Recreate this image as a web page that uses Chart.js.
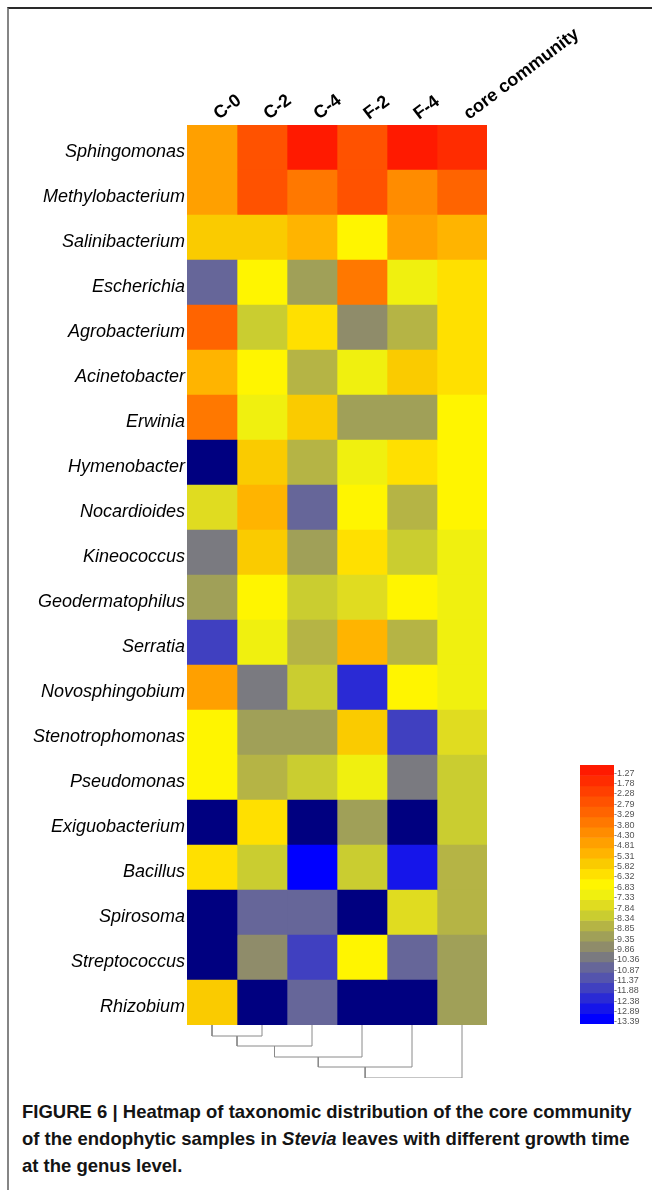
<!DOCTYPE html>
<html>
<head>
<meta charset="utf-8">
<title>Core community heatmap</title>
<script src="https://cdn.jsdelivr.net/npm/chart.js@4.4.1/dist/chart.umd.min.js"></script>
<style>
  html, body { margin: 0; padding: 0; background: #fff; }
  body { width: 652px; height: 1190px; position: relative; overflow: hidden;
         font-family: "Liberation Sans", Arial, Helvetica, sans-serif; }
  .frame { position: absolute; left: 7px; top: 7px; width: 645px; height: 1183px;
           border-top: 2px solid #2a2a2a; border-left: 2px solid #858585; box-sizing: border-box; }
  canvas { position: absolute; }
  #caption { position: absolute; left: 22px; top: 1098px; font-weight: bold; font-size: 18.5px;
             line-height: 27px; color: #141414; white-space: nowrap; }
</style>
</head>
<body>
<div class="frame"></div>
<canvas id="heat" width="652" height="1045" style="left:0;top:0"></canvas>
<canvas id="tree" width="300" height="65" style="left:187px;top:1020px"></canvas>
<canvas id="key" width="82" height="290" style="left:570px;top:750px"></canvas>
<div id="caption">
  <div>FIGURE 6 | Heatmap of taxonomic distribution of the core community</div>
  <div>of the endophytic samples in <i>Stevia</i> leaves with different growth time</div>
  <div>at the genus level.</div>
</div>
<script>
// Genera (rows, top to bottom) and samples (columns)
const genera = ["Sphingomonas", "Methylobacterium", "Salinibacterium", "Escherichia", "Agrobacterium",
  "Acinetobacter", "Erwinia", "Hymenobacter", "Nocardioides", "Kineococcus", "Geodermatophilus",
  "Serratia", "Novosphingobium", "Stenotrophomonas", "Pseudomonas", "Exiguobacterium", "Bacillus",
  "Spirosoma", "Streptococcus", "Rhizobium"];
const samples = ["C-0", "C-2", "C-4", "F-2", "F-4", "core community"];

// Log relative abundance per genus in each sample; null = not detected
const c0 = [-4.81, -4.81, -5.82, -10.87, -3.29, -5.31, -3.80, null, -7.84, -10.36,
  -9.35, -11.88, -4.81, -6.83, -6.83, null, -6.32, null, null, -5.82];
const c2 = [-2.79, -2.79, -5.82, -6.83, -8.34, -6.83, -7.33, -5.82, -5.31, -5.82,
  -6.83, -7.33, -10.36, -9.35, -8.85, -6.32, -8.34, -10.87, -9.86, null];
const c4 = [-1.27, -3.80, -5.31, -9.35, -6.32, -8.85, -5.82, -8.85, -10.87, -9.35,
  -8.34, -8.85, -8.34, -9.35, -8.34, null, -13.39, -10.87, -11.88, -10.87];
const f2 = [-2.79, -2.79, -6.83, -3.80, -9.86, -7.33, -9.35, -7.33, -6.83, -6.32,
  -7.84, -5.31, -12.38, -5.82, -7.33, -9.35, -8.34, null, -6.83, null];
const f4 = [-1.27, -4.30, -4.81, -7.33, -8.85, -5.82, -9.35, -6.32, -8.85, -8.34,
  -6.83, -8.85, -6.83, -11.88, -10.36, null, -12.89, -7.84, -10.87, null];
const core = [-1.78, -3.29, -5.31, -6.32, -6.32, -6.32, -6.83, -6.83, -6.83, -7.33,
  -7.33, -7.33, -7.33, -7.84, -8.34, -8.34, -8.85, -8.85, -9.35, -9.35];

// Colour key: tick values and one colour per step
const scaleTicks = [-1.27, -1.78, -2.28, -2.79, -3.29, -3.80, -4.30, -4.81, -5.31, -5.82, -6.32,
  -6.83, -7.33, -7.84, -8.34, -8.85, -9.35, -9.86, -10.36, -10.87, -11.37, -11.88, -12.38, -12.89, -13.39];
const scaleColors = ["#ff1a00", "#ff2c00", "#ff3f00", "#ff5200", "#ff6400", "#ff7800", "#ff8c00",
  "#ffa000", "#ffb400", "#facb00", "#ffe000", "#fff500", "#f0f00f", "#e0dc20", "#cacd30", "#b5b445",
  "#a0a058", "#8f8c6a", "#7a7a80", "#666699", "#5454ad", "#4040c0", "#2a2ad5", "#1515ea", "#0000ff"];
const absentColor = "#000080";

// Column clustering: pairs of node ids joined (leaves 0-5, new nodes from 6) and join heights
const dendroMerges = [[0, 1], [6, 2], [7, 3], [8, 4], [9, 5]];
const dendroHeights = [1.1, 2.1, 3.2, 4.2, 5.3];

const FONT = "'Liberation Sans', Arial, Helvetica, sans-serif";
const columns = [c0, c2, c4, f2, f4, core];

function colorFor(v) {
  if (v === null) return absentColor;
  let best = 0;
  scaleTicks.forEach((t, i) => { if (Math.abs(t - v) < Math.abs(scaleTicks[best] - v)) best = i; });
  return scaleColors[best];
}

// Slanted sample names above the columns, placed from the x scale
const columnTitles = {
  id: "columnTitles",
  afterDraw(chart) {
    const { ctx, chartArea } = chart;
    const xs = chart.scales.x;
    ctx.save();
    ctx.fillStyle = "#000";
    ctx.font = "bold 18px " + FONT;
    ctx.textAlign = "left";
    ctx.textBaseline = "alphabetic";
    samples.forEach((name, i) => {
      ctx.save();
      ctx.translate(xs.getPixelForValue(i + 0.5) + 7, chartArea.top - 5);
      ctx.rotate(-37 * Math.PI / 180);
      ctx.fillText(name, 0, 0);
      ctx.restore();
    });
    ctx.restore();
  }
};

// Heatmap: one floating horizontal bar per cell, column index on the x scale
new Chart(document.getElementById("heat"), {
  type: "bar",
  data: {
    labels: genera,
    datasets: columns.map((vals, ci) => ({
      label: samples[ci],
      data: vals.map(() => [ci, ci + 1]),
      backgroundColor: vals.map(colorFor),
      borderWidth: 0,
      grouped: false,
      barPercentage: 1,
      categoryPercentage: 1
    }))
  },
  options: {
    indexAxis: "y",
    responsive: false,
    animation: false,
    events: [],
    layout: { padding: { left: 0, top: 0, right: 165, bottom: 20 } },
    plugins: { legend: { display: false }, tooltip: { enabled: false } },
    scales: {
      x: {
        type: "linear", position: "top", min: 0, max: samples.length,
        afterFit: s => { s.height = 125; },
        grid: { display: false, drawTicks: false }, border: { display: false },
        ticks: { display: false }
      },
      y: {
        type: "category",
        afterFit: s => { s.width = 187; },
        grid: { display: false, drawTicks: false, tickLength: 0 }, border: { display: false },
        ticks: { padding: 2, labelOffset: 4, color: "#000", font: { family: FONT, size: 18, style: "italic" } }
      }
    }
  },
  plugins: [columnTitles]
});

// Dendrogram of the sample columns, on the same column units as the heatmap
(function () {
  const nodes = samples.map((_, i) => ({ x: i + 0.5, h: 0 }));
  const sets = dendroMerges.map(([a, b], k) => {
    const A = nodes[a], B = nodes[b], h = dendroHeights[k];
    nodes.push({ x: (A.x + B.x) / 2, h: h });
    return {
      data: [{ x: A.x, y: A.h }, { x: A.x, y: h }, { x: B.x, y: h }, { x: B.x, y: B.h }],
      showLine: true, borderColor: "#8a8a8a", borderWidth: 1, pointRadius: 0, tension: 0, fill: false
    };
  });
  new Chart(document.getElementById("tree"), {
    type: "scatter",
    data: { datasets: sets },
    options: {
      responsive: false, animation: false, events: [],
      layout: { padding: { left: 0, right: 0, top: 5, bottom: 7 } },
      plugins: { legend: { display: false }, tooltip: { enabled: false } },
      scales: {
        x: { type: "linear", min: 0, max: samples.length, display: false },
        y: { type: "linear", min: 0, max: dendroHeights[dendroHeights.length - 1], reverse: true, display: false }
      }
    }
  });
})();

// Colour key
(function () {
  const n = scaleTicks.length;
  const step = (scaleTicks[0] - scaleTicks[n - 1]) / (n - 1);
  new Chart(document.getElementById("key"), {
    type: "bar",
    data: {
      labels: ["key"],
      datasets: scaleTicks.map((v, i) => ({
        data: [[v - 0.2 * step, v + 0.8 * step]],
        backgroundColor: scaleColors[i],
        borderWidth: 0, grouped: false, barPercentage: 1, categoryPercentage: 1
      }))
    },
    options: {
      responsive: false, animation: false, events: [],
      layout: { padding: { left: 10, right: 0, top: 15, bottom: 16 } },
      plugins: { legend: { display: false }, tooltip: { enabled: false } },
      scales: {
        x: { display: false },
        y: {
          type: "linear", position: "right",
          min: scaleTicks[n - 1] - 0.2 * step, max: scaleTicks[0] + 0.8 * step,
          afterBuildTicks: s => { s.ticks = scaleTicks.map(v => ({ value: v })); },
          afterFit: s => { s.width = 38; },
          grid: { display: false, drawTicks: false, tickLength: 0 }, border: { display: false },
          ticks: { autoSkip: false, padding: 0, color: "#555", font: { family: FONT, size: 9 },
                   callback: v => v.toFixed(2) }
        }
      }
    }
  });
})();
</script>
</body>
</html>
